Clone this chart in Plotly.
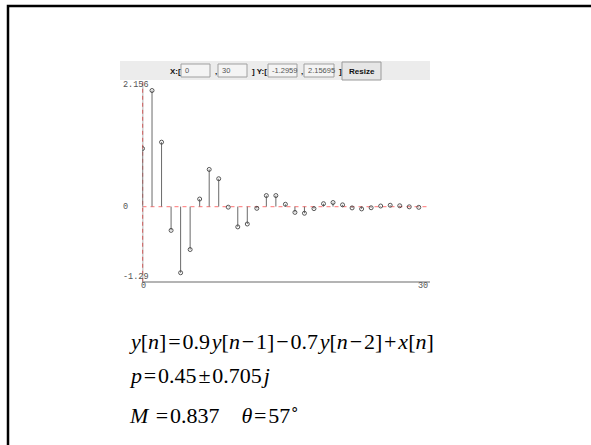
import plotly.graph_objects as go

W, H = 591, 445

# Data (impulse response samples)
n_vals = list(range(30))
h_vals = [1.00, 2.00, 1.11, -0.41, -1.14, -0.74, 0.13, 0.64, 0.48, -0.01,
          -0.35, -0.30, -0.03, 0.19, 0.19, 0.04, -0.10, -0.115, -0.035, 0.05,
          0.07, 0.03, -0.023, -0.04, -0.02, 0.01, 0.023, 0.014, -0.004, -0.013]
x_range = [0, 30]
y_range = [-1.2959, 2.15695]
y_tick_labels = ["2.156", "0", "-1.29"]
x_tick_labels = ["0", "30"]
toolbar_fields = ["0", "30", "-1.2959", "2.15695"]

def px(x):
    return x / W

def py(y):
    return 1 - y / H

# stems
sx, sy = [], []
for n, v in zip(n_vals, h_vals):
    sx += [n, n, None]
    sy += [0, v, None]

fig = go.Figure()
fig.add_trace(go.Scatter(x=x_range, y=[0, 0], mode="lines",
                         line=dict(color="#ff9090", width=1.2, dash="4px,4px"),
                         hoverinfo="skip", showlegend=False))
fig.add_trace(go.Scatter(x=[0, 0], y=y_range, mode="lines",
                         line=dict(color="#a0a0a0", width=1.6),
                         hoverinfo="skip", showlegend=False))
fig.add_trace(go.Scatter(x=[0, 0], y=y_range, mode="lines",
                         line=dict(color="#d01010", width=1.2, dash="4px,3px"),
                         hoverinfo="skip", showlegend=False))
fig.add_trace(go.Scatter(x=sx, y=sy, mode="lines",
                         line=dict(color="#6a6a6a", width=1),
                         hoverinfo="skip", showlegend=False))
fig.add_trace(go.Scatter(x=n_vals, y=h_vals, mode="markers",
                         marker=dict(symbol="circle-open", size=4,
                                     color="#444444", line=dict(width=0.9)),
                         showlegend=False))

x0p, x1p = 142.5, 428.3
ytop, ybot = 81.4, 281.8
fig.update_xaxes(domain=[px(x0p), px(x1p)], range=x_range, visible=False)
fig.update_yaxes(domain=[py(ybot), py(ytop)], range=y_range, visible=False)

shapes = []
annotations = []

# outer border (runs off the right/bottom edges)
shapes.append(dict(type="rect", xref="paper", yref="paper",
                   x0=px(8), x1=px(620), y0=py(6), y1=py(470),
                   line=dict(color="black", width=2.5), fillcolor="rgba(0,0,0,0)"))
# x axis line
shapes.append(dict(type="line", xref="paper", yref="paper",
                   x0=px(142), x1=px(430), y0=py(282), y1=py(282),
                   line=dict(color="#6a6a6a", width=1.2)))

# toolbar
shapes.append(dict(type="rect", xref="paper", yref="paper",
                   x0=px(120), x1=px(430), y0=py(61), y1=py(80),
                   line=dict(width=0), fillcolor="#ececec", layer="below"))
boxes = [(181, 210), (218, 247), (268, 297), (304, 334)]
for (bx0, bx1), txt in zip(boxes, toolbar_fields):
    shapes.append(dict(type="rect", xref="paper", yref="paper",
                       x0=px(bx0), x1=px(bx1), y0=py(64), y1=py(77),
                       line=dict(color="#a0a0a0", width=1), fillcolor="#f4f4f4"))
    annotations.append(dict(x=px(bx0 + 1.5), y=py(70.5), xref="paper", yref="paper",
                            text=txt, showarrow=False, xanchor="left", yanchor="middle",
                            font=dict(family="Liberation Sans", size=7.5, color="#555555")))
# button
shapes.append(dict(type="rect", xref="paper", yref="paper",
                   x0=px(342), x1=px(381), y0=py(62), y1=py(80),
                   line=dict(color="#9a9a9a", width=1), fillcolor="#e6e6e6"))
annotations.append(dict(x=px(361.5), y=py(71), xref="paper", yref="paper",
                        text="<b>Resize</b>", showarrow=False,
                        xanchor="center", yanchor="middle",
                        font=dict(family="Liberation Sans", size=8, color="#111111")))
for t, xx in [("<b>X:[</b>", 167.5), ("<b>,</b>", 212.5), ("<b>] Y:[</b>", 250),
              ("<b>,</b>", 299), ("<b>]</b>", 336.5)]:
    annotations.append(dict(x=px(xx), y=py(71), xref="paper", yref="paper",
                            text=t, showarrow=False, xanchor="left", yanchor="middle",
                            font=dict(family="Liberation Sans", size=8, color="#111111")))

# axis labels
mono = dict(family="Liberation Mono", size=8.5, color="#555555")
for t, yy in zip(y_tick_labels, [85, 206.5, 277]):
    annotations.append(dict(x=px(121), y=py(yy), xref="paper", yref="paper",
                            text=t, showarrow=False, xanchor="left", yanchor="middle",
                            font=mono))
annotations.append(dict(x=px(143.5), y=py(286), xref="paper", yref="paper",
                        text=x_tick_labels[0], showarrow=False, xanchor="center",
                        yanchor="middle", font=mono))
annotations.append(dict(x=px(430), y=py(286), xref="paper", yref="paper",
                        text=x_tick_labels[1], showarrow=False, xanchor="right",
                        yanchor="middle", font=mono))

# equations
serif = dict(family="Liberation Serif", size=22, color="black")
hs = "\u200a"
eqs = [
    (f"<i>y</i>[<i>n</i>]{hs}={hs}0.9{hs}<i>y</i>[<i>n</i>{hs}−{hs}1]{hs}−{hs}0.7{hs}<i>y</i>[<i>n</i>{hs}−{hs}2]{hs}+{hs}<i>x</i>[<i>n</i>]", 341),
    (f"<i>p</i>{hs}={hs}0.45{hs}±{hs}0.705{hs}<i>j</i>", 375),
    (f"<i>M</i> {hs}={hs}0.837    <i>θ</i>{hs}={hs}57<sup>∘</sup>", 414),
]
for t, yy in eqs:
    annotations.append(dict(x=px(127), y=py(yy), xref="paper", yref="paper",
                            text=t, showarrow=False, xanchor="left", yanchor="middle",
                            font=serif))

fig.update_layout(width=W, height=H, margin=dict(l=0, r=0, t=0, b=0),
                  paper_bgcolor="white", plot_bgcolor="white",
                  shapes=shapes, annotations=annotations, showlegend=False)

fig.write_html("out.html", config={"displayModeBar": False},
               post_script="document.body.style.margin='0';")
